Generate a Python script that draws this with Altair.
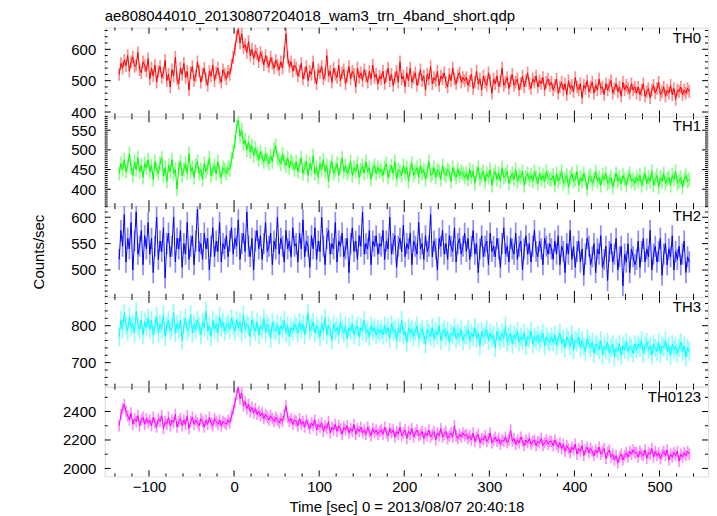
import altair as alt
import pandas as pd

FONT = "Liberation Sans"

panel_names = ["TH0", "TH1", "TH2", "TH3", "TH0123"]
colors = ["#ff0000", "#00ff00", "#0000ff", "#00ffff", "#ff00ff"]
bin_start = -135
bin_width = 2

th0 = [520, 555, 540, 565, 548, 580, 530, 560, 575, 545, 550, 590, 535, 525, 560, 548, 530, 570,
       505, 540, 515, 550, 495, 530, 545, 510, 525, 565, 500, 520, 480, 535, 515, 575, 505, 490, 540, 520, 555, 510, 530, 470, 525, 545, 500, 515, 560, 530, 495, 520, 540, 505, 485, 530, 515, 550, 500, 525, 540, 510, 495, 535, 520, 505,
       530, 520, 550, 575, 600, 640, 665, 620, 650, 605, 615, 590, 625, 580, 600, 570, 595, 585, 560, 590, 575, 550, 580, 560, 545, 575, 555, 540, 565, 550, 535, 560, 540, 590, 650, 575, 545, 560, 530, 550,
       540, 515, 530, 555, 505, 525, 545, 500, 530, 520, 560, 510, 490, 535, 525, 545, 505, 520, 580, 515, 530, 495, 540, 520, 510, 550, 500, 525, 535, 490, 515, 545, 505, 530, 520, 480, 540, 510, 525, 500, 535, 515, 495, 530, 505, 550, 510, 520, 490, 515,
       505, 530, 490, 515, 540, 500, 520, 485, 510, 530, 495, 560, 505, 515, 480, 525, 500, 540, 495, 510, 525, 485, 505, 535, 500, 515, 470, 520, 505, 545, 490, 510, 500, 530, 485, 515, 505, 525, 495, 480, 520, 500, 540, 505, 490, 515, 525, 495, 510, 500,
       510, 485, 500, 520, 475, 495, 530, 490, 505, 470, 515, 495, 485, 525, 500, 460, 505, 490, 515, 480, 500, 540, 485, 495, 510, 475, 500, 520, 485, 495, 505, 470, 490, 515, 480, 500, 525, 490, 475, 505, 495, 515, 480, 500, 490, 510, 470, 495, 505, 485,
       495, 470, 485, 505, 460, 480, 495, 470, 490, 455, 500, 475, 485, 465, 510, 480, 470, 490, 445, 485, 475, 500, 465, 480, 495, 460, 485, 470, 505, 475, 480, 455, 490, 470, 485, 500, 460, 475, 490, 465, 480, 450, 495, 470, 485, 475, 460, 490, 470, 480,
       460, 480, 455, 470, 490, 450, 465, 475, 445, 470, 485, 460, 475, 495, 455, 465, 480, 450, 470, 460, 485, 455, 475, 440, 470, 465, 480, 455, 470, 460, 475, 465]

th1 = [440, 465, 450, 475, 445, 460, 490, 455, 435, 470, 450, 480, 445, 460, 430, 465, 455, 475,
       445, 460, 425, 470, 450, 440, 465, 480, 435, 455, 420, 460, 445, 475, 440, 450, 400, 455, 470, 435, 450, 465, 440, 490, 445, 455, 430, 460, 470, 440, 450, 425, 465, 445, 455, 480, 435, 450, 460, 440, 470, 445, 430, 455, 450, 440,
       455, 450, 475, 495, 520, 560, 575, 535, 550, 515, 525, 500, 520, 495, 510, 485, 505, 490, 475, 495, 480, 470, 490, 475, 465, 485, 470, 500, 510, 480, 475, 465, 490, 470, 460, 480, 455, 470, 465, 450,
       470, 445, 460, 480, 440, 455, 470, 435, 465, 450, 485, 440, 455, 430, 465, 450, 475, 445, 460, 420, 455, 470, 440, 450, 465, 435, 455, 480, 445, 460, 440, 450, 470, 435, 455, 445, 465, 430, 450, 460, 440, 470, 445, 455, 425, 450, 460, 440, 455, 445,
       450, 435, 455, 465, 430, 445, 460, 440, 470, 425, 450, 445, 435, 460, 440, 455, 420, 450, 465, 435, 445, 455, 430, 460, 440, 450, 425, 445, 470, 435, 440, 455, 430, 450, 445, 425, 460, 440, 435, 450, 445, 420, 455, 440, 430, 450, 435, 445, 440, 430,
       440, 425, 450, 430, 445, 415, 440, 455, 425, 435, 445, 420, 440, 430, 450, 410, 435, 445, 425, 440, 420, 455, 430, 435, 445, 415, 430, 440, 425, 450, 420, 435, 430, 445, 410, 430, 440, 425, 435, 420, 445, 430, 415, 440, 425, 435, 420, 445, 430, 425,
       425, 435, 410, 440, 420, 430, 445, 415, 425, 435, 405, 430, 440, 420, 425, 445, 410, 430, 420, 440, 425, 400, 430, 435, 415, 425, 445, 420, 430, 410, 435, 425, 440, 415, 420, 430, 405, 425, 440, 420, 430, 415, 435, 425, 410, 430, 440, 420, 425, 415,
       430, 420, 435, 410, 425, 440, 415, 430, 420, 445, 410, 425, 435, 405, 430, 420, 440, 415, 425, 430, 410, 435, 425, 445, 415, 420, 430, 405, 425, 435, 420, 425]

th2 = [520, 575, 545, 605, 515, 560, 540, 590, 500, 555, 610, 530, 545, 575, 510, 565, 540, 590,
       530, 560, 495, 545, 600, 520, 555, 535, 580, 485, 550, 570, 525, 545, 600, 515, 560, 540, 575, 505, 550, 530, 590, 520, 545, 565, 510, 555, 615, 535, 550, 520, 570, 540, 560, 500, 545, 580, 525, 555, 535, 590, 515, 550, 540, 565,
       525, 555, 580, 530, 560, 545, 595, 520, 550, 570, 535, 610, 545, 525, 560, 500, 555, 575, 540, 565, 520, 550, 590, 535, 545, 570, 510, 555, 540, 600, 530, 560, 545, 515, 575, 540, 555, 525, 580, 545,
       550, 515, 570, 540, 595, 525, 555, 545, 505, 565, 540, 580, 520, 555, 535, 600, 545, 510, 560, 575, 530, 550, 540, 590, 515, 555, 545, 570, 525, 540, 560, 495, 550, 580, 535, 555, 520, 565, 545, 610, 530, 550, 540, 575, 510, 555, 545, 565, 530, 550,
       545, 575, 520, 555, 540, 600, 530, 550, 565, 505, 545, 560, 535, 585, 525, 550, 540, 570, 510, 555, 545, 530, 590, 540, 550, 520, 565, 535, 545, 605, 525, 555, 540, 500, 560, 545, 575, 530, 550, 520, 565, 545, 535, 580, 515, 550, 560, 530, 545, 570,
       535, 560, 520, 545, 575, 530, 550, 495, 540, 565, 525, 545, 555, 510, 570, 535, 545, 525, 560, 540, 505, 550, 580, 530, 545, 515, 560, 540, 530, 570, 520, 545, 555, 500, 540, 565, 530, 550, 515, 545, 575, 535, 525, 555, 540, 510, 560, 545, 530, 550,
       540, 520, 555, 530, 565, 510, 545, 535, 495, 550, 530, 575, 520, 545, 505, 535, 555, 515, 540, 490, 530, 560, 545, 510, 525, 550, 495, 540, 530, 565, 505, 520, 545, 480, 535, 550, 515, 530, 560, 500, 525, 545, 470, 530, 515, 550, 495, 540, 525, 510,
       520, 555, 505, 535, 560, 515, 540, 525, 575, 500, 530, 545, 515, 535, 560, 490, 530, 550, 510, 540, 525, 565, 500, 535, 520, 545, 510, 530, 555, 495, 525, 515]

th3 = [770, 815, 790, 835, 800, 785, 825, 795, 805, 780, 840, 800, 790, 815, 775, 810, 795, 820,
       790, 815, 775, 800, 825, 780, 805, 790, 830, 770, 800, 815, 785, 795, 835, 780, 805, 790, 815, 760, 800, 820, 785, 795, 830, 780, 805, 790, 815, 800, 775, 810, 795, 840, 785, 800, 770, 815, 790, 805, 780, 825, 795, 810, 785, 800,
       805, 790, 820, 800, 785, 815, 795, 810, 780, 830, 790, 805, 800, 770, 815, 795, 785, 810, 775, 800, 790, 820, 780, 805, 795, 765, 810, 790, 785, 805, 775, 800, 790, 815, 780, 800, 770, 795, 785, 805,
       795, 780, 810, 790, 805, 775, 800, 835, 785, 795, 810, 780, 800, 790, 770, 805, 785, 820, 775, 800, 790, 760, 805, 785, 795, 775, 810, 790, 780, 800, 765, 795, 785, 805, 775, 790, 800, 770, 795, 785, 815, 780, 790, 770, 800, 785, 795, 775, 790, 780,
       790, 775, 800, 780, 795, 765, 805, 785, 790, 760, 795, 780, 815, 775, 785, 755, 795, 780, 790, 770, 785, 800, 765, 780, 790, 775, 750, 790, 780, 770, 795, 765, 785, 775, 800, 760, 780, 790, 770, 785, 755, 780, 775, 795, 765, 780, 770, 790, 760, 775,
       775, 790, 760, 780, 770, 795, 765, 780, 745, 785, 770, 775, 790, 760, 780, 765, 775, 740, 785, 770, 760, 780, 765, 800, 755, 770, 780, 750, 775, 765, 785, 755, 770, 760, 780, 745, 770, 765, 785, 750, 770, 760, 775, 755, 765, 780, 745, 770, 760, 755,
       770, 755, 775, 745, 765, 780, 750, 765, 740, 770, 760, 745, 775, 735, 760, 755, 770, 740, 760, 745, 730, 765, 750, 740, 755, 725, 750, 745, 735, 760, 720, 745, 735, 755, 725, 740, 750, 715, 740, 730, 750, 720, 745, 735, 755, 730, 745, 740, 725, 750,
       735, 750, 740, 760, 725, 745, 755, 735, 745, 720, 750, 740, 730, 755, 725, 745, 740, 760, 730, 745, 720, 750, 735, 745, 725, 740, 755, 730, 745, 715, 740, 730]

th0123 = [2300, 2380, 2420, 2450, 2400, 2370, 2340, 2390, 2310, 2350, 2330, 2370, 2300, 2340, 2360, 2310, 2350, 2320,
          2340, 2300, 2360, 2320, 2290, 2350, 2330, 2370, 2280, 2330, 2310, 2360, 2300, 2340, 2320, 2380, 2290, 2330, 2350, 2300, 2340, 2310, 2370, 2280, 2330, 2360, 2310, 2340, 2320, 2300, 2350, 2330, 2290, 2340, 2310, 2360, 2320, 2300, 2350, 2330, 2310, 2340, 2300, 2330, 2320, 2310,
          2340, 2320, 2370, 2410, 2460, 2520, 2570, 2490, 2530, 2440, 2470, 2420, 2450, 2400, 2430, 2390, 2420, 2380, 2400, 2370, 2390, 2350, 2380, 2360, 2340, 2370, 2350, 2330, 2360, 2340, 2320, 2350, 2330, 2380, 2440, 2360, 2330, 2350, 2310, 2340,
          2330, 2300, 2350, 2310, 2330, 2290, 2340, 2310, 2280, 2320, 2300, 2340, 2270, 2310, 2290, 2320, 2260, 2300, 2280, 2330, 2250, 2290, 2270, 2310, 2260, 2300, 2280, 2240, 2290, 2270, 2300, 2250, 2280, 2260, 2310, 2240, 2280, 2260, 2290, 2250, 2270, 2240, 2290, 2260, 2230, 2280, 2250, 2270, 2240, 2260,
          2270, 2240, 2290, 2250, 2230, 2280, 2250, 2270, 2220, 2260, 2240, 2290, 2230, 2250, 2270, 2210, 2260, 2240, 2280, 2220, 2250, 2270, 2230, 2240, 2260, 2210, 2250, 2230, 2270, 2220, 2240, 2260, 2200, 2250, 2230, 2280, 2220, 2240, 2260, 2210, 2230, 2250, 2220, 2300, 2230, 2210, 2240, 2220, 2250, 2230,
          2240, 2210, 2230, 2200, 2250, 2190, 2220, 2240, 2180, 2210, 2200, 2230, 2190, 2210, 2250, 2180, 2200, 2220, 2190, 2210, 2170, 2200, 2190, 2220, 2180, 2200, 2270, 2190, 2210, 2170, 2200, 2180, 2220, 2190, 2160, 2200, 2180, 2210, 2170, 2190, 2200, 2160, 2190, 2180, 2210, 2160, 2180, 2200, 2170, 2190,
          2190, 2160, 2200, 2170, 2150, 2180, 2140, 2170, 2120, 2160, 2140, 2110, 2150, 2130, 2170, 2100, 2140, 2120, 2160, 2090, 2130, 2150, 2110, 2140, 2120, 2090, 2130, 2110, 2150, 2100, 2120, 2140, 2070, 2110, 2130, 2080, 2100, 2060, 2090, 2040, 2080, 2100, 2060, 2090, 2110, 2080, 2120, 2100, 2130, 2110,
          2110, 2080, 2120, 2100, 2090, 2130, 2070, 2110, 2100, 2140, 2080, 2120, 2090, 2110, 2070, 2100, 2120, 2090, 2130, 2060, 2100, 2080, 2110, 2090, 2120, 2050, 2100, 2080, 2110, 2090, 2120, 2100]

series = [th0, th1, th2, th3, th0123]
errors = [20, 18, 20, 25, 40]

x_domain = [-152, 557]
x_major = [-100, 0, 100, 200, 300, 400, 500]
x_minor = [-140, -120, -80, -60, -40, -20, 20, 40, 60, 80, 120, 140, 160, 180, 220, 240, 260, 280,
           320, 340, 360, 380, 420, 440, 460, 480, 520, 540]

y_domains = [[386, 669], [357, 585], [449, 621], [635, 878], [1944, 2575]]
y_labels = [[400, 500, 600], [400, 450, 500, 550], [500, 550, 600], [700, 800], [2000, 2200, 2400]]
y_minor_step = [20, 5, 10, 20, 100]
heights = [89, 90, 91, 90, 90]
W = 605

title_text = "ae808044010_20130807204018_wam3_trn_4band_short.qdp"
x_title = "Time [sec] 0 = 2013/08/07 20:40:18"
y_title = "Counts/sec"

MAJ = 6
MIN = 3


def panel(i):
    vals = series[i]
    H = heights[i]
    c = colors[i]
    df = pd.DataFrame({"t": [bin_start + bin_width * k for k in range(len(vals))], "v": vals})
    xs = alt.Scale(domain=x_domain, nice=False, zero=False)
    ys = alt.Scale(domain=y_domains[i], nice=False, zero=False)
    last = i == len(series) - 1
    if last:
        xaxis = alt.Axis(values=x_major, ticks=False, domain=False, grid=False, labelFontSize=15,
                         labelPadding=3, labelFont=FONT, labelColor="black", labelFlush=False,
                         title=x_title, titleFontSize=15, titleFont=FONT, titleFontWeight="normal",
                         titlePadding=5, titleColor="black", format="d")
    else:
        xaxis = None
    ykw = dict(values=y_labels[i], ticks=False, domain=False, grid=False, labelFontSize=15,
               labelPadding=9, labelFont=FONT, labelColor="black", labelFlush=False, format="d")
    if i == 2:
        ykw.update(title=y_title, titleFontSize=15, titleFont=FONT, titleFontWeight="normal",
                   titlePadding=24, titleColor="black")
    else:
        ykw.update(title=None)
    yaxis = alt.Axis(**ykw)

    X = lambda: alt.X("t:Q", scale=xs, axis=xaxis)
    Y = lambda: alt.Y("v:Q", scale=ys, axis=yaxis)

    base = alt.Chart(df)
    err = base.transform_calculate(
        lo=f"datum.v - {errors[i]}", hi=f"datum.v + {errors[i]}"
    ).mark_rule(color=c, opacity=0.45, strokeWidth=1.7, clip=True).encode(
        x=X(), y=alt.Y("lo:Q", scale=ys, axis=yaxis), y2="hi:Q")
    line = base.mark_line(color=c, strokeWidth=1, clip=True).encode(x=X(), y=Y())

    lo_, hi_ = y_domains[i]
    step = y_minor_step[i]
    start = (lo_ // step + 1) * step
    ymin = [v for v in range(int(start), int(hi_) + 1, step) if v not in y_labels[i]]
    ymaj = [v for v in y_labels[i]]

    layers = [err, line]
    for tv, L in ((x_major, MAJ), (x_minor, MIN)):
        tdf = pd.DataFrame({"t": tv})
        layers.append(alt.Chart(tdf).mark_rule(color="black", strokeWidth=1).encode(
            x=X(), y=alt.value(0), y2=alt.value(L)))
        layers.append(alt.Chart(tdf).mark_rule(color="black", strokeWidth=1).encode(
            x=X(), y=alt.value(H - L), y2=alt.value(H)))
    for tv, L in ((ymaj, MAJ), (ymin, MIN)):
        tdf = pd.DataFrame({"v": tv})
        layers.append(alt.Chart(tdf).mark_rule(color="black", strokeWidth=1).encode(
            y=Y(), x=alt.value(0), x2=alt.value(L)))
        layers.append(alt.Chart(tdf).mark_rule(color="black", strokeWidth=1).encode(
            y=Y(), x=alt.value(W - L), x2=alt.value(W)))
    lab = alt.Chart(pd.DataFrame({"name": [panel_names[i]]})).mark_text(
        align="right", baseline="top", fontSize=15, font=FONT, color="black"
    ).encode(text="name:N", x=alt.value(W - 7), y=alt.value(3))
    layers.append(lab)

    ch = alt.layer(*layers).properties(width=W, height=H)
    if i == 0:
        ch = ch.properties(title=alt.TitleParams(title_text, anchor="start", frame="group", fontSize=15,
                                                 font=FONT, fontWeight="normal", offset=3, color="black"))
    return ch


chart = alt.vconcat(*[panel(i) for i in range(len(series))], spacing=0, bounds="flush").properties(
    padding={"left": 23, "top": 0, "right": 0, "bottom": 0}
).configure_view(stroke="black", strokeWidth=1).configure(font=FONT)

chart.save("out.html", embed_options={"renderer": "svg", "actions": False})
